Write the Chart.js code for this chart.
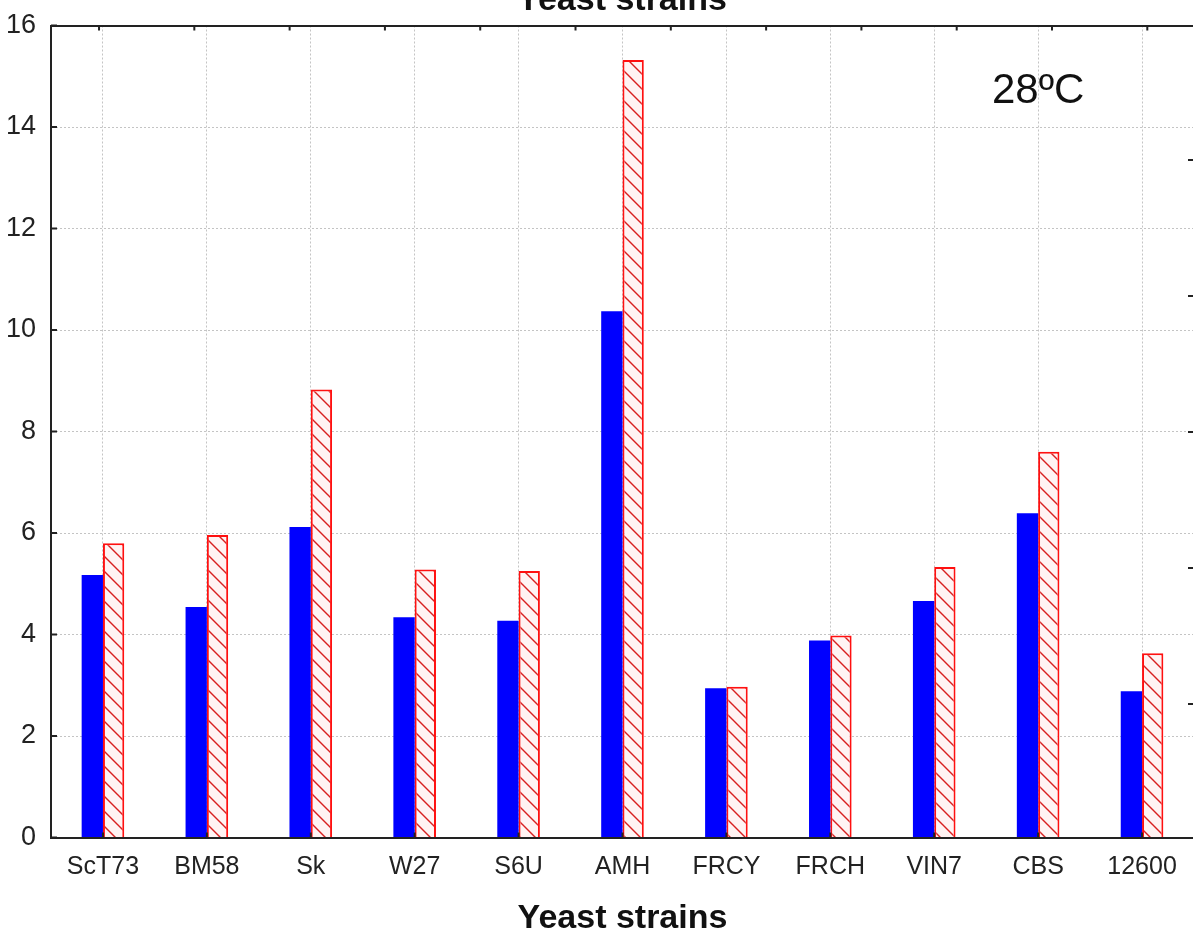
<!DOCTYPE html>
<html>
<head>
<meta charset="utf-8">
<title>Yeast strains</title>
<script src="https://cdn.jsdelivr.net/npm/chart.js@4.4.1/dist/chart.umd.min.js"></script>
<style>
html,body{margin:0;padding:0;background:#fff;overflow:hidden;width:1193px;height:939px;}
#wrap{position:absolute;left:-47px;top:-30px;width:1338px;height:969px;}
</style>
</head>
<body>
<div id="wrap"><canvas id="chart"></canvas></div>
<script>

// Data

const strains = ["ScT73","BM58","Sk","W27","S6U","AMH","FRCY","FRCH","VIN7","CBS","12600"];

const solidValues = [5.17,4.54,6.12,4.34,4.27,10.37,2.94,3.88,4.66,6.39,2.88];

const hatchValues = [5.80,5.96,8.83,5.28,5.25,15.32,2.97,3.98,5.33,7.60,3.63];

const yTicks = [0,2,4,6,8,10,12,14,16];

// tick marks of the (cut off) secondary axes on top and right
const topTicks = [0,1,2,3,4,5,6,7,8,9,10,11];
const rightTicks = [0,1,2,3,4];

const font = "'Liberation Sans', Arial, sans-serif";

// Hatch pattern

function hatch(){

const size = 15;
const c = document.createElement("canvas");
c.width = size;
c.height = size;
const g = c.getContext("2d");

g.fillStyle = "#fff3f3";
g.fillRect(0,0,size,size);

g.strokeStyle = "#d82020";
g.lineWidth = 1.4;
g.beginPath();
g.moveTo(-2,-2);
g.lineTo(size+2,size+2);
g.moveTo(size-2,-2);
g.lineTo(size+2,2);
g.moveTo(-2,size-2);
g.lineTo(2,size+2);
g.stroke();

return g.createPattern(c,"repeat");

}

// Inner tick marks and the 28ºC label

const extras = {
id:"extras",
afterDraw(chart){

const ctx = chart.ctx;
const a = chart.chartArea;
const s = chart.scales;

ctx.save();
ctx.strokeStyle = "#222";
ctx.lineWidth = 2;
ctx.beginPath();

s.y.ticks.forEach(t => {
const p = s.y.getPixelForValue(t.value);
ctx.moveTo(a.left,p);
ctx.lineTo(a.left+6,p);
});

s.y2.ticks.forEach(t => {
const p = s.y2.getPixelForValue(t.value);
ctx.moveTo(a.right,p);
ctx.lineTo(a.right-6,p);
});

s.x.ticks.forEach((t,i) => {
const p = s.x.getPixelForTick(i);
ctx.moveTo(p,a.bottom);
ctx.lineTo(p,a.bottom-5);
});

s.x2.ticks.forEach(t => {
const p = s.x2.getPixelForValue(t.value);
ctx.moveTo(p,a.top);
ctx.lineTo(p,a.top+5);
});

ctx.stroke();

ctx.fillStyle = "#111";
ctx.font = "42px " + font;
ctx.textAlign = "center";
ctx.textBaseline = "middle";
ctx.fillText("28ºC", s.x.getPixelForValue(9), s.y.getPixelForValue(14.7));

ctx.restore();

}
};

// Chart

new Chart(
document.getElementById("chart"),
{
type:"bar",
data:{
labels:strains,
datasets:[
{
label:"Series 1",
data:solidValues,
backgroundColor:"#0000ff",
borderWidth:0
},
{
label:"Series 2",
data:hatchValues,
backgroundColor:hatch(),
borderColor:"#ff1010",
borderWidth:2
}
]
},
options:{
responsive:true,
maintainAspectRatio:false,
animation:false,
devicePixelRatio:1,
layout:{padding:0},
categoryPercentage:0.41,
barPercentage:1,
plugins:{
legend:{display:false},
tooltip:{enabled:false},
title:{
display:true,
text:"Yeast strains",
color:"#111",
font:{family:font,size:34,weight:"bold",lineHeight:1.2},
padding:{top:10,bottom:0}
}
},
scales:{
x:{
position:"bottom",
offset:true,
grid:{
offset:false,
color:"#c4c4c4",
lineWidth:1,
drawTicks:false,
borderDash:[2,2]
},
border:{display:true,color:"#222",width:2,dash:[2,2]},
ticks:{
color:"#222",
font:{family:font,size:25},
padding:15,
maxRotation:0,
autoSkip:false
},
title:{
display:true,
text:"Yeast strains",
color:"#111",
font:{family:font,size:34,weight:"bold",lineHeight:1.2},
padding:{top:0,bottom:0}
},
afterFit(scale){ scale.height = 101.5; }
},
x2:{
type:"linear",
position:"top",
offset:false,
min:-0.504,
max:11.49,
grid:{display:false,drawTicks:false,offset:false},
border:{display:true,color:"#222",width:2},
ticks:{display:false},
afterBuildTicks(scale){ scale.ticks = topTicks.map(v => ({value:v})); },
afterFit(scale){ scale.height = 4.7; }
},
y:{
position:"left",
min:0,
max:16,
grid:{
color:"#c4c4c4",
lineWidth:1,
drawTicks:false,
borderDash:[2,2]
},
border:{display:true,color:"#222",width:2,dash:[2,2]},
ticks:{
color:"#222",
font:{family:font,size:27},
padding:15
},
afterBuildTicks(scale){ scale.ticks = yTicks.map(v => ({value:v})); },
afterFit(scale){ scale.width = 98; }
},
y2:{
type:"linear",
position:"right",
min:-0.982,
max:4.989,
grid:{display:false,drawTicks:false},
border:{display:true,color:"#222",width:2},
ticks:{display:false},
afterBuildTicks(scale){ scale.ticks = rightTicks.map(v => ({value:v})); },
afterFit(scale){ scale.width = 97; }
}
}
},
plugins:[extras]
}
);

</script>
</body>
</html>
